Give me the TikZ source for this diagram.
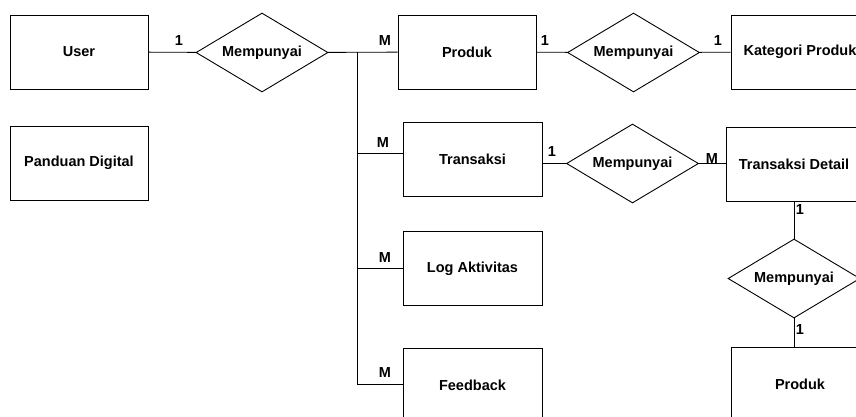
\documentclass[tikz,border=0pt]{standalone}
\usepackage{fontspec}
\setmainfont{Liberation Sans}
\usetikzlibrary{shapes.geometric}
\begin{document}
\begin{tikzpicture}[x=1pt,y=-1pt,
  every node/.style={font=\fontsize{14.5}{17}\selectfont\bfseries},
  entity/.style={draw, line width=0.9pt, minimum width=138pt, minimum height=74pt, inner sep=0pt},
  relation/.style={draw, line width=0.9pt, diamond, aspect=1.67, minimum width=132pt, minimum height=79pt, inner sep=0pt},
  link/.style={line width=0.9pt},
  card/.style={inner sep=0pt}]
  \useasboundingbox (0,0) rectangle (856,416);

  % entities
  \node[entity] (user)      at (79,52)      {User};
  \node[entity] (panduan)   at (79,163)     {Panduan Digital};
  \node[entity] (produk)    at (467,52)     {Produk};
  \node[entity] (kategori)  at (800,52)     {Kategori Produk};
  \node[entity, minimum width=139pt] (transaksi) at (472.5,159) {Transaksi};
  \node[entity, minimum width=136pt] (tdetail)   at (794,164)   {Transaksi Detail};
  \node[entity, minimum width=139pt] (logakt)    at (472.5,268.5) {Log Aktivitas};
  \node[entity, minimum width=139pt] (feedback)  at (472.5,385) {Feedback};
  \node[entity] (produkb)   at (800,384)    {Produk};

  % relationships
  \node[relation] (r1) at (262,52.5)    {Mempunyai};
  \node[relation] (r2) at (633.5,52.5)  {Mempunyai};
  \node[relation] (r3) at (632.5,163.5) {Mempunyai};
  \node[relation] (r4) at (794,278.5)   {Mempunyai};

  % branch points on the vertical trunk
  \coordinate (jtop) at (357,52);
  \coordinate (jtr)  at (357,153);
  \coordinate (jlog) at (357,268.5);
  \coordinate (jfb)  at (357,384);

  % connectors
  \draw[link] (user) -- (r1);
  \draw[link] (r1) -- (produk);
  \draw[link] (jtop) -- (jfb);
  \draw[link] (jtr) -- (jtr -| transaksi.west);
  \draw[link] (jlog) -- (logakt.west);
  \draw[link] (jfb) -- (jfb -| feedback.west);
  \draw[link] (produk) -- (r2);
  \draw[link] (r2) -- (kategori);
  \draw[link] (r3.west -| transaksi.east) -- (r3.west);
  \draw[link] (r3.east) -- (r3.east -| tdetail.west);
  \draw[link] (r4.north |- tdetail.south) -- (r4.north);
  \draw[link] (r4.south) -- (r4.south |- produkb.north);

  % cardinalities
  \node[card] (c1) at (179,41)  {1};
  \node[card] (c2) at (385,41)  {M};
  \node[card] (c3) at (545,41)  {1};
  \node[card] (c4) at (718,41)  {1};
  \node[card] (c5) at (383,143) {M};
  \node[card] (c6) at (552,152) {1};
  \node[card] (c7) at (712,159) {M};
  \node[card] (c8) at (385,258) {M};
  \node[card] (c9) at (385,373) {M};
  \node[card] (c10) at (800,210) {1};
  \node[card] (c11) at (800,330) {1};
\end{tikzpicture}
\end{document}
